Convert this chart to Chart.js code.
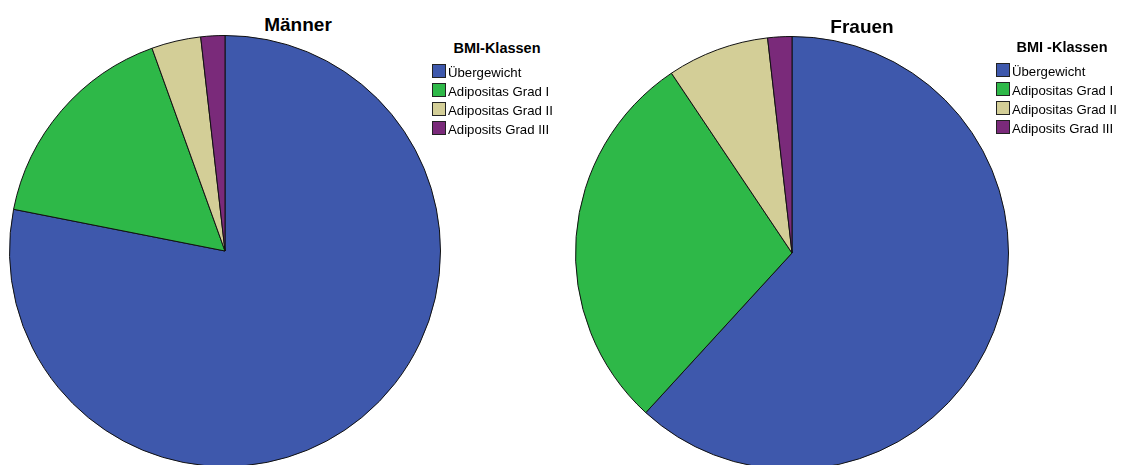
<!DOCTYPE html>
<html>
<head>
<meta charset="utf-8">
<script src="https://cdn.jsdelivr.net/npm/chart.js@4"></script>
<style>
  html, body { margin: 0; padding: 0; background: #fff; overflow: hidden; width: 1133px; height: 465px; }
  body { position: relative; font-family: "Liberation Sans", Arial, sans-serif; color: #000; }
  canvas { position: absolute; }
  .title { position: absolute; font-weight: bold; font-size: 19px; line-height: 19px; white-space: nowrap; transform: translateX(-50%); }
  .ltitle { position: absolute; font-weight: bold; font-size: 14.5px; line-height: 15px; white-space: nowrap; transform: translateX(-50%); }
  .legend { position: absolute; }
  .row { position: relative; height: 19px; }
  .box { position: absolute; left: 0; top: 0; width: 12px; height: 12px; border: 1px solid #222; }
  .lbl { position: absolute; left: 16px; top: 1px; font-size: 13.2px; line-height: 16px; white-space: nowrap; }
</style>
</head>
<body>
<canvas id="c1" width="432" height="432" style="left:9px;top:35px"></canvas>
<canvas id="c2" width="434" height="434" style="left:575px;top:36px"></canvas>

<div class="title" style="left:298px;top:15px">Männer</div>
<div class="title" style="left:862px;top:17px">Frauen</div>

<div class="ltitle" style="left:497px;top:41px">BMI-Klassen</div>
<div class="ltitle" style="left:1062px;top:40px">BMI -Klassen</div>

<div class="legend" id="leg1" style="left:432px;top:64px"></div>
<div class="legend" id="leg2" style="left:996px;top:63px"></div>

<script>
const categories = ['Übergewicht', 'Adipositas Grad I', 'Adipositas Grad II', 'Adiposits Grad III'];
const maennerValues = [78.1, 16.4, 3.7, 1.8];
const frauenValues = [61.8, 28.8, 7.6, 1.8];
const sliceColors = ['#3E58AC', '#2EB848', '#D3CE97', '#7A2A7A'];

function makePie(id, values) {
  new Chart(document.getElementById(id), {
    type: 'pie',
    data: {
      labels: categories,
      datasets: [{
        data: values,
        backgroundColor: sliceColors,
        borderColor: '#111',
        borderWidth: 1
      }]
    },
    options: {
      responsive: false,
      animation: false,
      layout: { padding: 0 },
      plugins: { legend: { display: false }, tooltip: { enabled: false }, title: { display: false } }
    }
  });
}
makePie('c1', maennerValues);
makePie('c2', frauenValues);

function makeLegend(id) {
  const el = document.getElementById(id);
  categories.forEach((c, i) => {
    const row = document.createElement('div');
    row.className = 'row';
    const box = document.createElement('div');
    box.className = 'box';
    box.style.background = sliceColors[i];
    const lbl = document.createElement('div');
    lbl.className = 'lbl';
    lbl.textContent = c;
    row.appendChild(box);
    row.appendChild(lbl);
    el.appendChild(row);
  });
}
makeLegend('leg1');
makeLegend('leg2');
</script>
</body>
</html>
